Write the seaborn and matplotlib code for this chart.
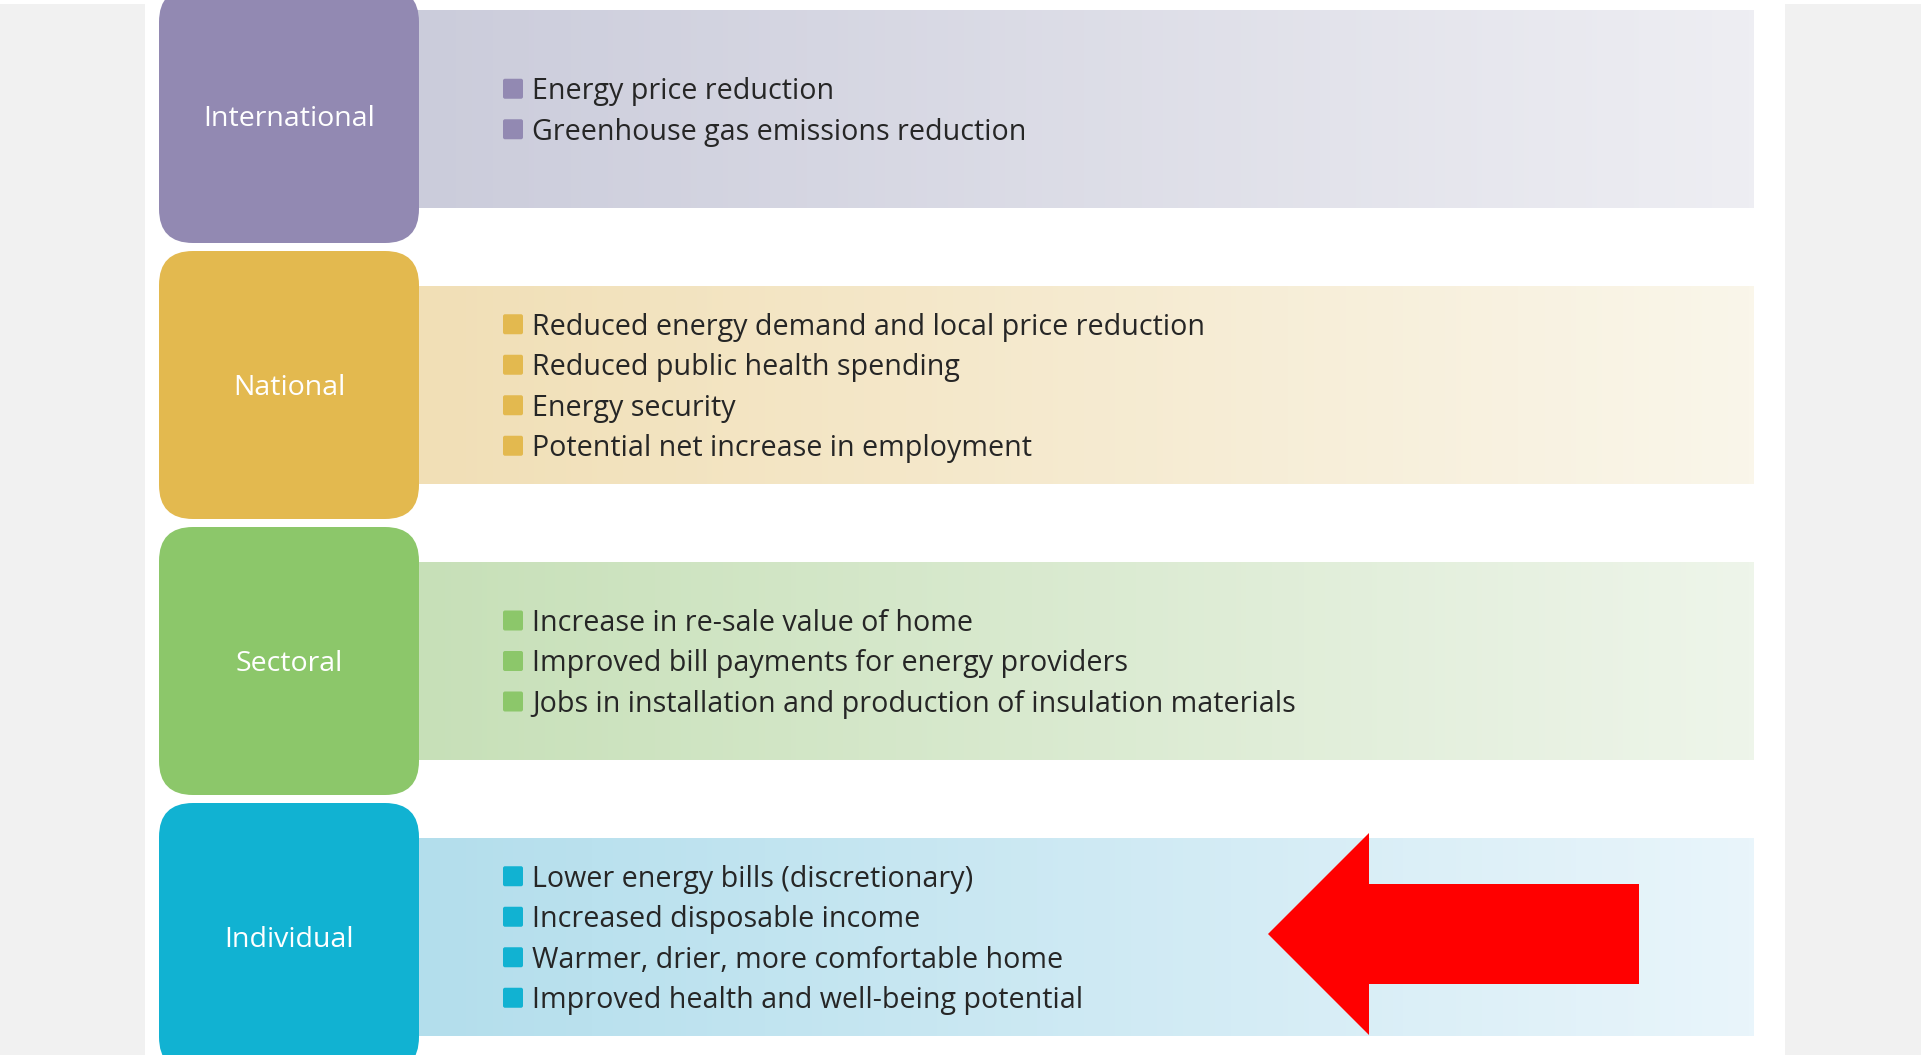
import numpy as np
import matplotlib.pyplot as plt
import seaborn as sns
from matplotlib.colors import ListedColormap
from matplotlib.patches import FancyBboxPatch, Rectangle, Polygon

# levels of benefit and their colours
levels = ["International", "National", "Sectoral", "Individual"]
level_colors = ["#9289B2", "#E3B94F", "#8CC76A", "#11B2D2"]
panel_left = ["#CBCCDB", "#F1DFB6", "#C7E0B8", "#B3DEEC"]
panel_right = ["#EEEEF3", "#FAF6EA", "#EEF5EA", "#E9F5FB"]

# benefits listed for each level
international_items = ["Energy price reduction",
                       "Greenhouse gas emissions reduction"]
national_items = ["Reduced energy demand and local price reduction",
                  "Reduced public health spending",
                  "Energy security",
                  "Potential net increase in employment"]
sectoral_items = ["Increase in re-sale value of home",
                  "Improved bill payments for energy providers",
                  "Jobs in installation and production of insulation materials"]
individual_items = ["Lower energy bills (discretionary)",
                    "Increased disposable income",
                    "Warmer, drier, more comfortable home",
                    "Improved health and well-being potential"]
items = [international_items, national_items, sectoral_items, individual_items]

sns.set_theme(style="white")
plt.rcParams['font.family'] = ['Open Sans', 'DejaVu Sans']

W, H = 1921, 1055
fig = plt.figure(figsize=(W / 100, H / 100), dpi=100)
ax = fig.add_axes([0, 0, 1, 1])
ax.set_xlim(0, W)
ax.set_ylim(H, 0)
ax.axis('off')

# grey side margins
ax.add_patch(Rectangle((0, 4), 145, H, color="#F1F1F1", lw=0))
ax.add_patch(Rectangle((1785, 4), W - 1785, H, color="#F1F1F1", lw=0))

BOX_X0, BOX_X1 = 159, 419
PANEL_X1 = 1754
PANEL_TOP0, PANEL_H, STEP = 10, 198, 276
ROW_GAP = 40.5
TEXT_FS = 20.6
LABEL_FS = 20.5

for i, level in enumerate(levels):
    p_top = PANEL_TOP0 + i * STEP
    p_bot = p_top + PANEL_H
    p_mid = (p_top + p_bot) / 2

    # gradient panel
    cmap = ListedColormap(sns.blend_palette([panel_left[i], panel_right[i]], 256))
    ax.imshow(np.linspace(0, 1, 256).reshape(1, -1), cmap=cmap, aspect='auto',
              extent=(BOX_X1 - 5, PANEL_X1, p_bot, p_top), zorder=1)

    # rounded level box
    b_top = p_top - 35 if i else -12
    b_bot = p_bot + 35
    ax.add_patch(FancyBboxPatch((BOX_X0, b_top), BOX_X1 - BOX_X0, b_bot - b_top,
                                boxstyle="round,pad=0,rounding_size=34",
                                fc=level_colors[i], ec='none', zorder=2))
    ax.text((BOX_X0 + BOX_X1) / 2, (b_top + b_bot) / 2 + 10, level,
            ha='center', va='baseline', color='white', fontsize=LABEL_FS, zorder=3)

    # bullet list
    n = len(items[i])
    for j, item in enumerate(items[i]):
        yc = p_mid + (j - (n - 1) / 2) * ROW_GAP
        ax.add_patch(FancyBboxPatch((503, yc - 10), 20, 20,
                                    boxstyle="round,pad=0,rounding_size=2",
                                    fc=level_colors[i], ec='none', zorder=3))
        ax.text(532, yc + 10.5, item, va='baseline', color='#262626',
                fontsize=TEXT_FS, zorder=3)

# red arrow pointing at the individual level
tip_x, mid_y = 1268, 934
head_len, head_half, shaft_half, tail_x = 101, 101, 50, 1639
ax.add_patch(Polygon([(tip_x, mid_y),
                      (tip_x + head_len, mid_y - head_half),
                      (tip_x + head_len, mid_y - shaft_half),
                      (tail_x, mid_y - shaft_half),
                      (tail_x, mid_y + shaft_half),
                      (tip_x + head_len, mid_y + shaft_half),
                      (tip_x + head_len, mid_y + head_half)],
                     closed=True, fc='#FF0000', ec='none', zorder=4))

fig.savefig('out.png', dpi=100, facecolor='white')
